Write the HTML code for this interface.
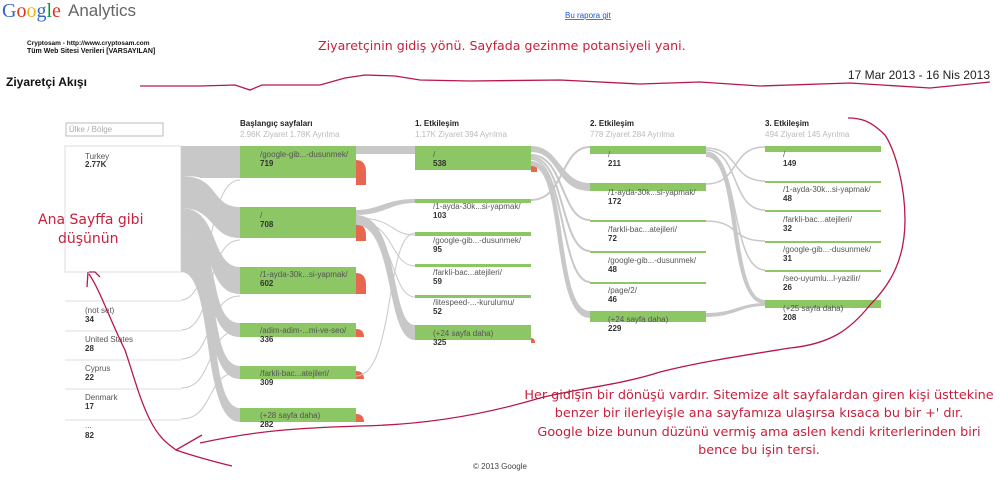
<!DOCTYPE html>
<html><head><meta charset="utf-8"><style>
body{margin:0;background:#fff}
svg{display:block;font-family:"Liberation Sans",sans-serif}
.n{fill:#8cc665}
.g{fill:#c8c8c8}
.f{fill:none;stroke:#c8c8c8}
.l{font-size:8px;fill:#555}
.v{font-size:8px;fill:#333;font-weight:bold}
.h{font-size:8px;font-weight:bold;fill:#222}
.s{font-size:8px;fill:#bbb}
.r{fill:#e8654f}
.a{fill:#c8203c;font-family:"DejaVu Sans",sans-serif}
.pen{fill:none;stroke:#b8174a;stroke-width:1.3}
</style></head><body>
<svg width="1000" height="480" viewBox="0 0 1000 480">
<text x="2" y="17" font-family="Liberation Serif" font-size="20" fill="#3366cc">G<tspan fill="#dd3322">o</tspan><tspan fill="#eeb211">o</tspan><tspan fill="#3366cc">g</tspan><tspan fill="#009933">l</tspan><tspan fill="#dd3322">e</tspan></text>
<text x="68" y="16" font-size="17" fill="#666">Analytics</text>
<text x="565" y="18" font-size="8" fill="#1a55cc" text-decoration="underline">Bu rapora git</text>
<text x="27" y="45" font-size="6.5" font-weight="bold" fill="#111">Cryptosam - http://www.cryptosam.com</text>
<text x="27" y="53" font-size="7" font-weight="bold" fill="#111">Tüm Web Sitesi Verileri [VARSAYILAN]</text>
<text x="318" y="50" class="a" font-size="12.6">Ziyaretçinin gidiş yönü. Sayfada gezinme potansiyeli yani.</text>
<text x="6" y="86" font-size="12" font-weight="bold" fill="#111">Ziyaretçi Akışı</text>
<text x="990" y="79" font-size="12" fill="#222" text-anchor="end">17 Mar 2013 - 16 Nis 2013</text>
<path class="pen" d="M140 86 L200 86 L235 85 L250 90 L262 85 L320 85 L345 78 L365 75 L395 76 L420 80 L470 81 L560 80 L640 84 L700 82 L760 86 L850 83 L930 88 L990 82"/>

<rect x="66" y="123" width="97" height="13" fill="#fff" stroke="#bbb"/>
<text x="69" y="132" font-size="8" fill="#aaa">Ülke / Bölge</text>
<rect x="65" y="146" width="116" height="126" fill="#fff" stroke="#ddd"/>
<text x="85" y="159" class="l">Turkey</text><text x="85" y="167" class="v">2.77K</text>
<g stroke="#ddd"><line x1="65" y1="301" x2="181" y2="301"/><line x1="65" y1="331" x2="181" y2="331"/><line x1="65" y1="360" x2="181" y2="360"/><line x1="65" y1="389" x2="181" y2="389"/><line x1="65" y1="420" x2="181" y2="420"/></g>
<text x="85" y="313" class="l">(not set)</text><text x="85" y="322" class="v">34</text>
<text x="85" y="342" class="l">United States</text><text x="85" y="351" class="v">28</text>
<text x="85" y="371" class="l">Cyprus</text><text x="85" y="380" class="v">22</text>
<text x="85" y="400" class="l">Denmark</text><text x="85" y="409" class="v">17</text>
<text x="85" y="428" class="l">...</text><text x="85" y="438" class="v">82</text>

<path class="g" d="M181 146 L240 146 L240 178 L200 178 C200 178 200 176 181 176Z"/>
<path class="g" d="M181 176 C220 176 210 207 240 207 L240 238 C210 238 215 208 181 208Z"/>
<path class="g" d="M181 208 C220 208 210 267 240 267 L240 294 C205 294 215 233 181 233Z"/>
<path class="g" d="M181 233 C225 233 205 323 240 323 L240 337 C200 337 215 245 181 245Z"/>
<path class="g" d="M181 245 C225 245 205 366 240 366 L240 379 C200 379 215 256 181 256Z"/>
<path class="g" d="M181 256 C225 256 205 408 240 408 L240 422 C200 422 215 272 181 272Z"/>
<g class="f"><path d="M181 300 C215 300 205 180 240 180"/><path d="M181 330 C215 330 205 240 240 240"/><path d="M181 359 C215 359 205 296 240 296"/><path d="M181 388 C215 388 205 330 240 330"/><path d="M181 419 C215 419 205 372 240 372"/></g>

<text x="240" y="126" class="h">Başlangıç sayfaları</text><text x="240" y="137" class="s">2.96K Ziyaret 1.78K Ayrılma</text>
<rect class="n" x="240" y="146" width="116" height="32"/><text x="260" y="157" class="l">/google-gib...-dusunmek/</text><text x="260" y="166" class="v">719</text>
<rect class="n" x="240" y="207" width="116" height="31"/><text x="260" y="218" class="l">/</text><text x="260" y="227" class="v">708</text>
<rect class="n" x="240" y="267" width="116" height="27"/><text x="260" y="277" class="l">/1-ayda-30k...si-yapmak/</text><text x="260" y="286" class="v">602</text>
<rect class="n" x="240" y="323" width="116" height="14"/><text x="260" y="333" class="l">/adim-adim-...mi-ve-seo/</text><text x="260" y="342" class="v">336</text>
<rect class="n" x="240" y="366" width="116" height="13"/><text x="260" y="376" class="l">/farkli-bac...atejileri/</text><text x="260" y="385" class="v">309</text>
<rect class="n" x="240" y="408" width="116" height="14"/><text x="260" y="418" class="l">(+28 sayfa daha)</text><text x="260" y="427" class="v">282</text>
<path class="r" d="M356 160 Q366 160 366 172 L366 185 L356 185Z"/>
<path class="r" d="M356 224 Q366 224 366 236 L366 241 L356 241Z"/>
<path class="r" d="M356 273 Q366 273 366 285 L366 294 L356 294Z"/>
<path class="r" d="M356 329 Q364 329 364 337 L356 337Z"/>
<path class="r" d="M356 371 Q364 371 364 379 L356 379Z"/>
<path class="r" d="M356 414 Q364 414 364 422 L356 422Z"/>

<path class="g" d="M356 146 L415 146 L415 154 L356 154Z"/>
<path class="g" d="M356 210 C380 210 385 199 415 199 L415 203 C390 203 385 215 356 215Z"/>
<path class="g" d="M356 215 C400 215 390 325 415 325 L415 340 C385 340 395 225 356 225Z"/>
<g class="f"><path d="M356 218 C395 218 390 235 415 235"/><path d="M356 221 C395 221 390 266 415 266"/><path d="M356 224 C395 224 390 297 415 297"/><path d="M356 376 C395 376 385 233 415 233"/></g>

<text x="415" y="126" class="h">1. Etkileşim</text><text x="415" y="137" class="s">1.17K Ziyaret 394 Ayrılma</text>
<rect class="n" x="415" y="146" width="116" height="24"/><text x="433" y="157" class="l">/</text><text x="433" y="166" class="v">538</text>
<rect class="n" x="415" y="199" width="116" height="4"/><text x="433" y="209" class="l">/1-ayda-30k...si-yapmak/</text><text x="433" y="218" class="v">103</text>
<rect class="n" x="415" y="232" width="116" height="4"/><text x="433" y="243" class="l">/google-gib...-dusunmek/</text><text x="433" y="252" class="v">95</text>
<rect class="n" x="415" y="264" width="116" height="3"/><text x="433" y="275" class="l">/farkli-bac...atejileri/</text><text x="433" y="284" class="v">59</text>
<rect class="n" x="415" y="295" width="116" height="3"/><text x="433" y="305" class="l">/litespeed-...-kurulumu/</text><text x="433" y="314" class="v">52</text>
<rect class="n" x="415" y="325" width="116" height="15"/><text x="433" y="336" class="l">(+24 sayfa daha)</text><text x="433" y="345" class="v">325</text>
<path class="r" d="M531 161 Q537 161 537 168 L537 172 L531 172Z"/>
<path class="r" d="M531 338 Q535 338 535 343 L531 343Z"/>

<path class="g" d="M531 146 C560 146 560 183 590 183 L590 191 C555 191 560 152 531 152Z"/>
<g class="f" stroke-width="2"><path d="M531 155 C565 155 560 220 590 220"/><path d="M531 157 C565 157 560 251 590 251"/><path d="M531 159 C565 159 560 282 590 282"/><path d="M531 200 C565 200 560 147 590 147"/></g>
<path class="g" d="M531 161 C570 161 555 311 590 311 L590 318 C550 318 565 166 531 166Z"/>

<text x="590" y="126" class="h">2. Etkileşim</text><text x="590" y="137" class="s">778 Ziyaret 284 Ayrılma</text>
<rect class="n" x="590" y="146" width="116" height="8"/><text x="608" y="157" class="l">/</text><text x="608" y="166" class="v">211</text>
<rect class="n" x="590" y="183" width="116" height="8"/><text x="608" y="195" class="l">/1-ayda-30k...si-yapmak/</text><text x="608" y="204" class="v">172</text>
<rect class="n" x="590" y="220" width="116" height="2"/><text x="608" y="232" class="l">/farkli-bac...atejileri/</text><text x="608" y="241" class="v">72</text>
<rect class="n" x="590" y="251" width="116" height="2"/><text x="608" y="263" class="l">/google-gib...-dusunmek/</text><text x="608" y="272" class="v">48</text>
<rect class="n" x="590" y="282" width="116" height="2"/><text x="608" y="293" class="l">/page/2/</text><text x="608" y="302" class="v">46</text>
<rect class="n" x="590" y="311" width="116" height="11"/><text x="608" y="322" class="l">(+24 sayfa daha)</text><text x="608" y="331" class="v">229</text>

<g class="f" stroke-width="1.5"><path d="M706 148 C740 148 730 181 765 181"/><path d="M706 150 C740 150 730 210 765 210"/><path d="M706 184 C740 184 730 147 765 147"/><path d="M706 221 C740 221 730 241 765 241"/><path d="M706 152 C740 152 730 270 765 270"/></g>
<path class="g" d="M706 153 C745 153 730 300 765 300 L765 304 C725 304 740 157 706 157Z"/>
<path class="g" d="M706 313 C735 313 740 303 765 303 L765 306 C740 306 735 317 706 317Z"/>

<text x="765" y="126" class="h">3. Etkileşim</text><text x="765" y="137" class="s">494 Ziyaret 145 Ayrılma</text>
<rect class="n" x="765" y="146" width="116" height="6"/><text x="783" y="157" class="l">/</text><text x="783" y="166" class="v">149</text>
<rect class="n" x="765" y="181" width="116" height="2"/><text x="783" y="192" class="l">/1-ayda-30k...si-yapmak/</text><text x="783" y="201" class="v">48</text>
<rect class="n" x="765" y="210" width="116" height="2"/><text x="783" y="222" class="l">/farkli-bac...atejileri/</text><text x="783" y="231" class="v">32</text>
<rect class="n" x="765" y="241" width="116" height="2"/><text x="783" y="252" class="l">/google-gib...-dusunmek/</text><text x="783" y="261" class="v">31</text>
<rect class="n" x="765" y="270" width="116" height="2"/><text x="783" y="281" class="l">/seo-uyumlu...l-yazilir/</text><text x="783" y="290" class="v">26</text>
<rect class="n" x="765" y="300" width="116" height="8"/><text x="783" y="311" class="l">(+25 sayfa daha)</text><text x="783" y="320" class="v">208</text>

<text x="38" y="224" class="a" font-size="14">Ana Sayffa gibi</text>
<text x="58" y="243" class="a" font-size="14">düşünün</text>
<g class="a" font-size="12.8" text-anchor="middle">
<text x="759" y="399">Her gidişin bir dönüşü vardır. Sitemize alt sayfalardan giren kişi üsttekine</text>
<text x="759" y="417">benzer bir ilerleyişle ana sayfamıza ulaşırsa kısaca bu bir +' dır.</text>
<text x="759" y="436">Google bize bunun düzünü vermiş ama aslen kendi kriterlerinden biri</text>
<text x="759" y="454">bence bu işin tersi.</text>
</g>
<path class="pen" d="M88 272 L87 287 M89 272 L95 272 L100 277 M89 274 C100 290 110 320 125 350 C135 380 140 400 150 420 C160 440 170 445 176 450 L202 435 M176 450 C190 455 215 462 232 466"/>
<path class="pen" d="M200 443 C260 430 300 428 360 426 C420 425 480 416 540 398 C580 388 620 385 660 372 C700 362 740 356 790 348 C830 344 850 330 870 305 C890 285 905 260 905 220 C905 185 895 150 885 135 C870 120 860 118 848 118"/>
<text x="500" y="469" font-size="8" fill="#444" text-anchor="middle">© 2013 Google</text>
</svg>
</body></html>
